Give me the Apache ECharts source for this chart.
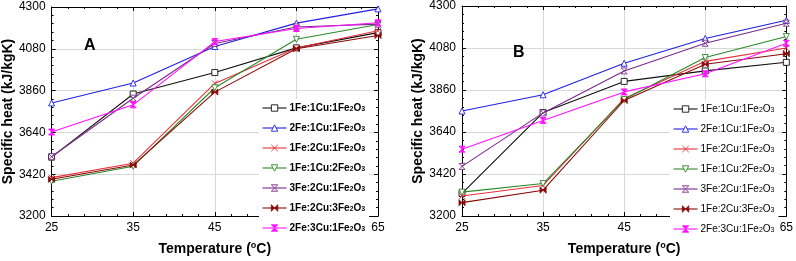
<!DOCTYPE html>
<html>
<head>
<meta charset="utf-8">
<script src="https://cdn.jsdelivr.net/npm/echarts@6/dist/echarts.min.js"></script>
<style>
  html, body { margin: 0; padding: 0; background: #fff; }
  #chart { width: 796px; height: 261px; }
</style>
</head>
<body>
<div id="chart"></div>
<script>
const temps = [25, 35, 45, 55, 65]
const yTicks = [3200, 3420, 3640, 3860, 4080, 4300]
const names = [
  '1Fe:1Cu:1Fe2O3', '2Fe:1Cu:1Fe2O3', '1Fe:2Cu:1Fe2O3', '1Fe:1Cu:2Fe2O3',
  '3Fe:2Cu:1Fe2O3', '1Fe:2Cu:3Fe2O3', '2Fe:3Cu:1Fe2O3',
]

// panel A values, one array per sample
const a_1Fe1Cu1 = [3510, 3842, 3955, 4085, 4165]
const a_2Fe1Cu1 = [3795, 3900, 4092, 4215, 4290]
const a_1Fe2Cu1 = [3402, 3478, 3898, 4084, 4175]
const a_1Fe1Cu2 = [3383, 3462, 3875, 4130, 4208]
const a_3Fe2Cu1 = [3512, 3820, 4108, 4195, 4210]
const a_1Fe2Cu3 = [3393, 3468, 3852, 4080, 4150]
const a_2Fe3Cu1 = [3642, 3785, 4118, 4187, 4217]

// panel B values
const b_1Fe1Cu1 = [3318, 3742, 3905, 3960, 4005]
const b_2Fe1Cu1 = [3750, 3835, 4000, 4130, 4225]
const b_1Fe2Cu1 = [3305, 3360, 3815, 4010, 4080]
const b_1Fe1Cu2 = [3325, 3370, 3810, 4030, 4140]
const b_3Fe2Cu1 = [3460, 3740, 3960, 4105, 4210]
const b_1Fe2Cu3 = [3270, 3335, 3805, 3995, 4050]
const b_2Fe3Cu1 = [3550, 3700, 3850, 3945, 4105]

const panelA = [a_1Fe1Cu1, a_2Fe1Cu1, a_1Fe2Cu1, a_1Fe1Cu2, a_3Fe2Cu1, a_1Fe2Cu3, a_2Fe3Cu1]
const panelB = [b_1Fe1Cu1, b_2Fe1Cu1, b_1Fe2Cu1, b_1Fe1Cu2, b_3Fe2Cu1, b_1Fe2Cu3, b_2Fe3Cu1]

const colors = ['#111111', '#2020e0', '#e8303a', '#2a8a2a', '#7a2a8a', '#8b0a0a', '#ff10ff']
// marker outlines: square, triangle, cross, down-triangle, hourglass, bowtie, hourglass
const symbols = [
  'path://M0,0L10,0L10,10L0,10Z',
  'path://M5,0L10,9L0,9Z',
  'path://M0,0L10,10M10,0L0,10',
  'path://M0,0L10,0L5,9Z',
  'path://M0,0L10,0L0,10L10,10Z',
  'path://M0,0L10,10L10,0L0,10Z',
  'path://M0,0L10,0L0,10L10,10Z',
]
const hollow = [true, true, true, true, true, false, false]

const font = 'Arial, "Liberation Sans", sans-serif'

function minorOf(ticks, n) {
  const out = []
  for (let i = 0; i < ticks.length - 1; i++) {
    const step = (ticks[i + 1] - ticks[i]) / n
    for (let k = 1; k < n; k++) out.push(ticks[i] + step * k)
  }
  return out
}
const xMinor = minorOf(temps, 5)
const yMinor = minorOf(yTicks, 5)

function xAxes(gi) {
  const base = { type: 'value', gridIndex: gi, min: 25, max: 65, axisLabel: { show: false }, splitLine: { show: false } }
  return [
    {
      ...base,
      position: 'bottom',
      axisLine: { show: true, lineStyle: { color: '#000', width: 1 } },
      axisTick: { show: true, inside: true, length: 4, customValues: temps, lineStyle: { color: '#000' } },
      axisLabel: { show: true, customValues: temps, color: '#000', fontSize: 12, fontFamily: font, margin: 6, formatter: (v) => String(v) },
      splitLine: { show: true, lineStyle: { color: '#d8d8d8', width: 1 } },
      name: 'Temperature ({sup|o}C)',
      nameLocation: 'middle',
      nameGap: 25,
      nameTextStyle: {
        color: '#000', fontSize: 14, fontWeight: 'bold', fontFamily: font,
        rich: { sup: { fontSize: 9, fontWeight: 'bold', verticalAlign: 'top', lineHeight: 16, fontFamily: font } },
      },
    },
    {
      ...base,
      position: 'top',
      axisLine: { show: true, lineStyle: { color: '#000', width: 1 } },
      axisTick: { show: true, inside: true, length: 4, customValues: temps, lineStyle: { color: '#000' } },
    },
    {
      ...base,
      position: 'bottom',
      axisLine: { show: false },
      axisTick: { show: true, inside: true, length: 2, customValues: xMinor, lineStyle: { color: '#000' } },
    },
    {
      ...base,
      position: 'top',
      axisLine: { show: false },
      axisTick: { show: true, inside: true, length: 2, customValues: xMinor, lineStyle: { color: '#000' } },
    },
  ]
}

function yAxes(gi) {
  const base = { type: 'value', gridIndex: gi, min: 3200, max: 4300, axisLabel: { show: false }, splitLine: { show: false } }
  return [
    {
      ...base,
      position: 'left',
      axisLine: { show: true, lineStyle: { color: '#000', width: 1 } },
      axisTick: { show: true, inside: true, length: 4, customValues: yTicks, lineStyle: { color: '#000' } },
      axisLabel: { show: true, customValues: yTicks, color: '#000', fontSize: 12, fontFamily: font, margin: 6, formatter: (v) => String(v) },
      splitLine: { show: true, lineStyle: { color: '#d8d8d8', width: 1 } },
      name: 'Specific heat (kJ/kgK)',
      nameLocation: 'middle',
      nameRotate: 90,
      nameGap: 35,
      nameTextStyle: { color: '#000', fontSize: 14, fontWeight: 'bold', fontFamily: font },
    },
    {
      ...base,
      position: 'right',
      axisLine: { show: true, lineStyle: { color: '#000', width: 1 } },
      axisTick: { show: true, inside: true, length: 4, customValues: yTicks, lineStyle: { color: '#000' } },
    },
    {
      ...base,
      position: 'left',
      axisLine: { show: false },
      axisTick: { show: true, inside: true, length: 2, customValues: yMinor, lineStyle: { color: '#000' } },
    },
    {
      ...base,
      position: 'right',
      axisLine: { show: false },
      axisTick: { show: true, inside: true, length: 2, customValues: yMinor, lineStyle: { color: '#000' } },
    },
  ]
}

function makeSeries(panel, axisIdx) {
  return panel.map((vals, i) => ({
    name: names[i],
    type: 'line',
    xAxisIndex: axisIdx,
    yAxisIndex: axisIdx,
    data: temps.map((t, k) => [t, vals[k]]),
    symbol: symbols[i],
    symbolSize: 6,
    lineStyle: { color: colors[i], width: 1.1 },
    itemStyle: hollow[i]
      ? { color: '#fff', borderColor: colors[i], borderWidth: 0.9 }
      : { color: colors[i], borderColor: colors[i], borderWidth: 0.9 },
    z: 3 + i,
  }))
}

const legendLabel = (name) => name.replace(/Fe2O3$/, 'Fe{s|2}O{s|3}')

function legend(left, top, bold) {
  const w = bold ? 'bold' : 'normal'
  return {
    data: names,
    orient: 'vertical',
    left: left,
    top: top,
    padding: [3, 4, 3, 3],
    backgroundColor: '#fff',
    itemWidth: 24,
    itemHeight: 8,
    itemGap: 9,
    selectedMode: false,
    itemStyle: { borderWidth: 0.9 },
    lineStyle: { width: 1.1 },
    formatter: legendLabel,
    textStyle: {
      color: '#000', fontSize: 10, fontWeight: w, fontFamily: font, padding: [0, 0, 0, -2],
      rich: { s: { fontSize: 7, fontWeight: w, fontFamily: font, verticalAlign: 'bottom', lineHeight: 9, padding: [4, 0, 0, 0] } },
    },
  }
}

const chart = echarts.init(document.getElementById('chart'), null, { renderer: 'canvas' })

chart.setOption({
  animation: false,
  backgroundColor: '#fff',
  grid: [
    { left: 48, top: 7, width: 330, height: 220 },
    { left: 462, top: 5, width: 328, height: 220 },
  ],
  title: [
    { text: 'A', left: 79, top: 33, textStyle: { fontSize: 16, fontWeight: 'bold', fontFamily: font, color: '#000' } },
    { text: 'B', left: 508, top: 40, textStyle: { fontSize: 16, fontWeight: 'bold', fontFamily: font, color: '#000' } },
  ],
  xAxis: [...xAxes(0), ...xAxes(1)],
  yAxis: [...yAxes(0), ...yAxes(1)],
  legend: [legend(259, 99, true), legend(670, 100, false)],
  series: [...makeSeries(panelA, 0), ...makeSeries(panelB, 4)],
})
</script>
</body>
</html>
